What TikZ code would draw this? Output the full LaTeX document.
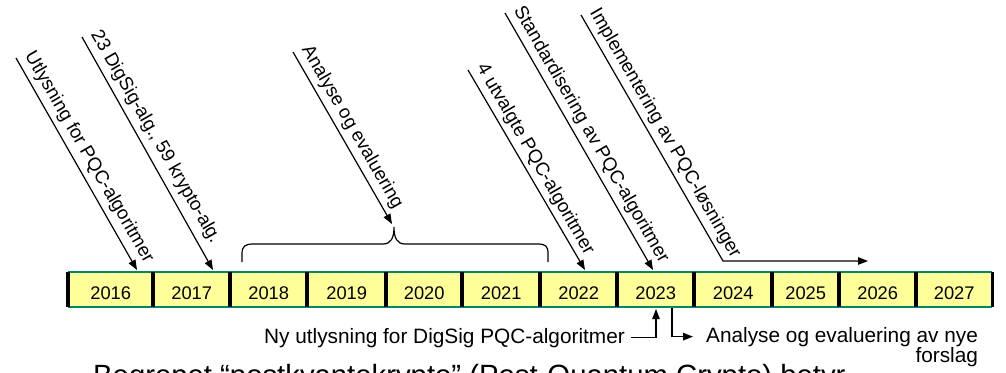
\documentclass[tikz,border=0pt]{standalone}
\usepackage{fontspec}
\setmainfont{Liberation Sans}
\usetikzlibrary{arrows.meta,calc}
\definecolor{cellyellow}{RGB}{255,255,153}
\definecolor{barteal}{RGB}{0,135,100}
\begin{document}
\begin{tikzpicture}[x=1pt,y=-1pt,
  yearcell/.style={fill=cellyellow, inner sep=0pt, anchor=north west,
    minimum height=35pt, text height=18.7pt, text depth=0pt,
    font=\fontsize{18.3}{20}\selectfont},
  pointer/.style={line width=1.2pt, -{Triangle[length=10pt,width=7.5pt]}},
  diaglabel/.style={rotate=-60, anchor=south west, inner xsep=2pt,
    inner ysep=4.5pt, text depth=4pt, font=\fontsize{18.8}{21}\selectfont},
  note/.style={inner ysep=0pt, font=\fontsize{20.8}{23}\selectfont},
  barline/.style={draw=barteal, line width=2pt},
  divider/.style={line width=3.5pt},
  bracket/.style={line width=1.2pt}
]
\useasboundingbox (0,0) rectangle (1006,372);

% year cells of the timeline
\foreach \l/\r/\yr in {68/153/2016,153/230/2017,230/307/2018,307/386/2019,
    386/462/2020,462/540/2021,540/617/2022,617/694/2023,694/772/2024,
    772/839/2025,839/916/2026,916/992/2027}{
  \pgfmathsetmacro\w{\r-\l}
  \node[yearcell, minimum width=\w pt] (y\yr) at (\l,272) {\yr};
}

% borders of the bar
\draw[barline] (y2016.north west) -- (y2027.north east);
\draw[barline] (y2016.south west) -- (y2027.south east);
\foreach \c in {2016,...,2027}
  \draw[divider] (y\c.north west) -- (y\c.south west);
\draw[divider] (y2027.north east) -- (y2027.south east);

% milestone arrows
\coordinate (s1) at (16,58);   \coordinate (t1) at (137,270);
\coordinate (s2) at (82,37);   \coordinate (t2) at (213,270);
\coordinate (s3) at (293,52);  \coordinate (t3) at (392,224);
\coordinate (s4) at (468,70);  \coordinate (t4) at (585,270);
\coordinate (s5) at (505,13);  \coordinate (t5) at (653,270);
\coordinate (s6) at (581,15);  \coordinate (k6) at (723,261);
\coordinate (t6) at (868,261);

\draw[pointer] (s1) -- (t1);
\draw[pointer] (s2) -- (t2);
\draw[pointer] (s3) -- (t3);
\draw[pointer] (s4) -- (t4);
\draw[pointer] (s5) -- (t5);
\draw[pointer] (s6) -- (k6) -- (t6);

\node[diaglabel] (l1) at (s1) {Utlysning for PQC-algoritmer};
\node[diaglabel] (l2) at (s2) {23 DigSig-alg., 59 krypto-alg.};
\node[diaglabel] (l3) at (s3) {Analyse og evaluering};
\node[diaglabel] (l4) at (s4) {4 utvalgte PQC-algoritmer};
\node[diaglabel] (l5) at (s5) {Standardisering av PQC-algoritmer};
\node[diaglabel] (l6) at (s6) {Implementering av PQC-løsninger};

% brace over 2018--2021
\draw[bracket] (242,262) -- (242,254) .. controls (242,246) and (245,244) .. (254,244)
  -- (383,244) .. controls (391,244) and (394,238) .. (394,227)
  .. controls (394,238) and (397,244) .. (405,244)
  -- (537,244) .. controls (546,244) and (548,246) .. (548,254) -- (548,262);

% notes below the bar
\node[note, inner xsep=6pt, anchor=base east] (ny) at (631,343)
  {Ny utlysning for DigSig PQC-algoritmer};
\node[note, inner xsep=0pt, anchor=base west] (an1) at (706,342)
  {Analyse og evaluering av nye};
\node[note, inner xsep=0pt, anchor=base east] (an2) at ($(an1.base east)+(0,20)$)
  {forslag};

\coordinate (up23) at (656,309);
\coordinate (dn23) at (672,308);
\draw[pointer] (ny.east) -| (up23);
\draw[pointer] (dn23) |- ([xshift=-13pt]an1.west);

% definition line at the bottom edge
\begin{scope}
  \clip (0,0) rectangle (1006,372);
  \node[anchor=base west, inner sep=0pt, font=\fontsize{29.3}{32}\selectfont] (term)
    at (93,385) {Begrepet “postkvantekrypto” (Post-Quantum Crypto) betyr};
\end{scope}
\end{tikzpicture}
\end{document}
